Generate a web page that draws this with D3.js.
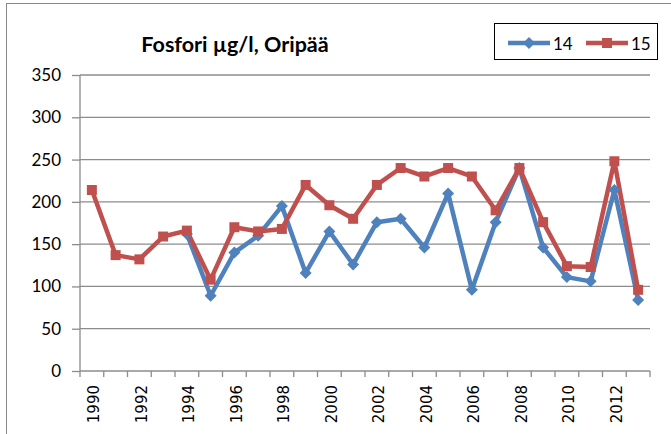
<!DOCTYPE html>
<html><head><meta charset="utf-8">
<script src="https://cdn.jsdelivr.net/npm/d3@7"></script>
<style>body{margin:0;background:#fff}svg{display:block}</style>
</head><body>
<script>
const years = d3.range(1990, 2014);
const yTicks = [0,50,100,150,200,250,300,350];
const seriesNames = ["14","15"];
const s14 = [null,null,null,null,162,89,140,160,195,116,165,126,176,180,146,210,96,176,240,146,111,106,214,84];
const s15 = [214,137,132,159,166,108,170,165,168,220,196,180,220,240,230,240,230,190,240,176,124,123,248,96];
const colors = ["#4F81BD","#C0504D"];

const W=671,H=434;
const F="Lato, 'Liberation Sans', sans-serif";
const svg=d3.select("body").append("svg").attr("width",W).attr("height",H).style("font-family",F);
svg.append("rect").attr("x",6.5).attr("y",3.5).attr("width",700).attr("height",500).attr("fill","#fff").attr("stroke","#888").attr("stroke-width",1);

const x=d3.scaleBand().domain(years).range([80,650]).padding(0);
const y=d3.scaleLinear().domain([0,350]).range([371,75]);
const gridC="#8c8c8c";

// gridlines
svg.append("g").selectAll("line").data(yTicks.filter(d=>d>0)).join("line")
 .attr("x1",80).attr("x2",650).attr("y1",d=>y(d)).attr("y2",d=>y(d))
 .attr("stroke",gridC).attr("stroke-width",1.3);

// y axis
const ya=svg.append("g").attr("transform","translate(80,0)").call(d3.axisLeft(y).tickValues(yTicks).tickSize(8).tickPadding(11));
ya.select(".domain").attr("stroke",gridC).attr("stroke-width",1.3).attr("d","M0,"+y(0)+"V"+y(350));
ya.selectAll(".tick line").attr("stroke",gridC).attr("stroke-width",1.3);
ya.selectAll(".tick text").style("font-family",F).attr("font-size",17).attr("fill","#000");

// x axis
svg.append("line").attr("x1",80).attr("x2",650).attr("y1",y(0)).attr("y2",y(0)).attr("stroke",gridC).attr("stroke-width",1.3);
const bounds=years.map(d=>x(d)).concat([x(years[years.length-1])+x.bandwidth()]);
svg.append("g").selectAll("line").data(bounds).join("line")
 .attr("x1",d=>d).attr("x2",d=>d).attr("y1",y(0)).attr("y2",y(0)+6).attr("stroke",gridC).attr("stroke-width",1.3);
svg.append("g").selectAll("text").data(years.filter(d=>d%2===0)).join("text")
 .attr("transform",d=>`translate(${x(d)+x.bandwidth()/2+7.5},385) rotate(-90)`)
 .attr("text-anchor","end").style("font-family","'DejaVu Sans', sans-serif").style("font-size","15px").attr("fill","#000").text(d=>d);

// lines
const cx=d=>x(d)+x.bandwidth()/2;
[s14,s15].forEach((s,i)=>{
  const pts=years.map((yr,j)=>({yr,v:s[j]})).filter(p=>p.v!=null);
  svg.append("path").datum(pts).attr("fill","none").attr("stroke",colors[i]).attr("stroke-width",4.5).attr("stroke-linejoin","round")
   .attr("d",d3.line().x(p=>cx(p.yr)).y(p=>y(p.v)));
});
// markers
const diamondPath=d3.symbol().type(d3.symbolSquare).size(72)();
const squarePath=d3.symbol().type(d3.symbolSquare).size(100)();
[s14,s15].forEach((s,i)=>{
  const pts=years.map((yr,j)=>({yr,v:s[j]})).filter(p=>p.v!=null);
  svg.append("g").selectAll("path").data(pts).join("path")
   .attr("d",i===0?diamondPath:squarePath).attr("fill",colors[i])
   .attr("transform",p=>`translate(${cx(p.yr)},${y(p.v)})${i===0?" rotate(45)":""}`);
});

// title
svg.append("text").attr("x",235).attr("y",52).attr("text-anchor","middle").attr("font-size",21.5).attr("font-weight","bold").attr("fill","#000").text("Fosfori µg/l, Oripää");

// legend
const lg=svg.append("g");
lg.append("rect").attr("x",494.5).attr("y",23.5).attr("width",163).attr("height",36).attr("fill","#fff").attr("stroke","#000").attr("stroke-width",1);
const lx=[508,586];
seriesNames.forEach((n,i)=>{
  lg.append("line").attr("x1",lx[i]).attr("x2",lx[i]+42).attr("y1",43).attr("y2",43).attr("stroke",colors[i]).attr("stroke-width",4.5);
  lg.append("path").attr("transform",`translate(${lx[i]+21},43)${i===0?" rotate(45)":""}`)
    .attr("d",i===0?diamondPath:squarePath).attr("fill",colors[i]);
  lg.append("text").attr("x",lx[i]+45).attr("y",49.5).attr("font-size",17).attr("fill","#000").text(n);
});
</script>
</body></html>
